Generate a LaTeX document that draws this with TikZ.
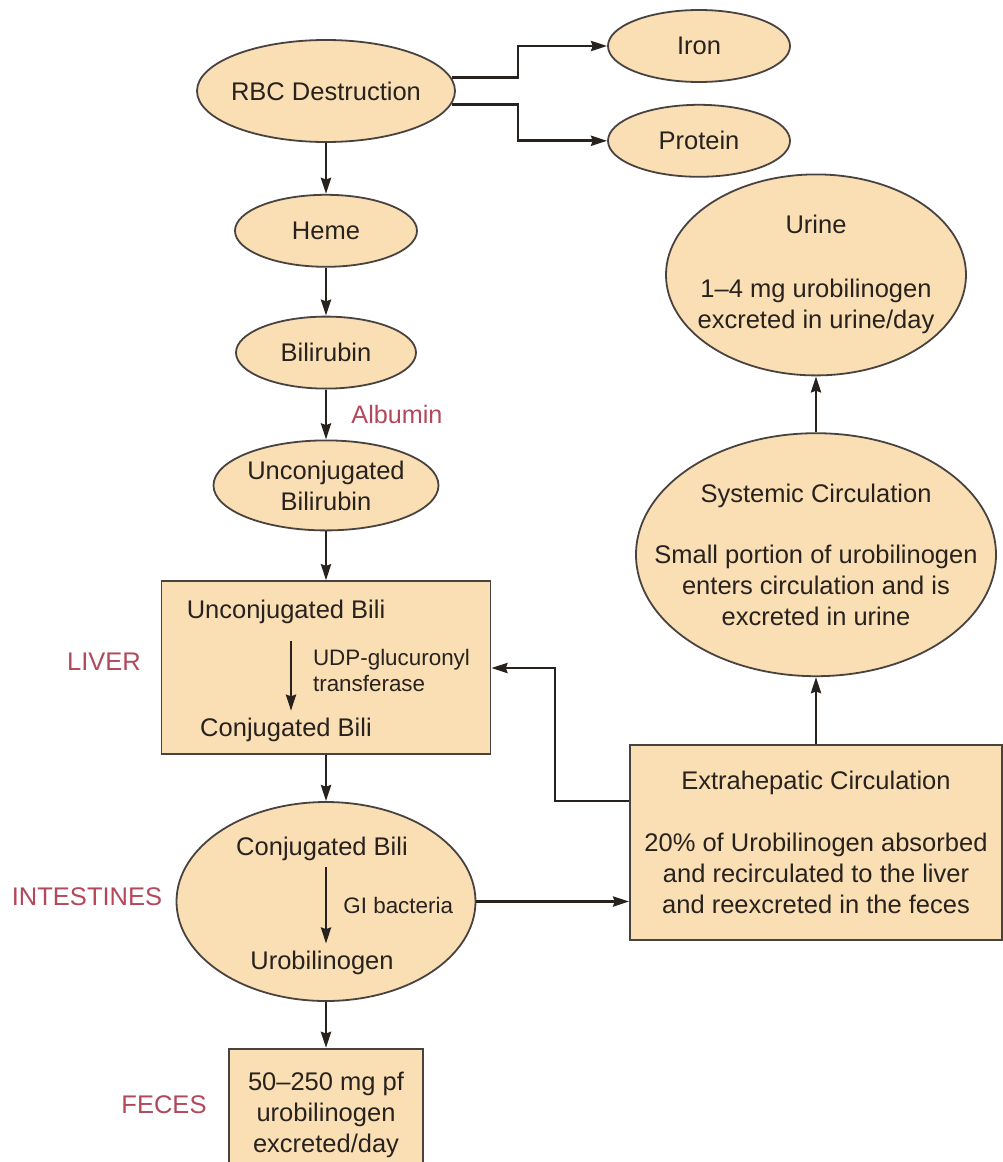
\documentclass[tikz,border=0pt]{standalone}
\usepackage{fontspec}
\setmainfont{Liberation Sans}
\usetikzlibrary{shapes.geometric,arrows.meta,positioning,calc}

\definecolor{peach}{RGB}{250,222,180}
\definecolor{ink}{RGB}{40,34,30}
\definecolor{regionred}{RGB}{178,72,90}

\begin{document}
\begin{tikzpicture}[
    x=0.5pt, y=-0.5pt,
    node distance=24pt,
    every node/.style={font=\fontsize{12.75pt}{15.5pt}\selectfont, text=ink},
    oval/.style={ellipse, draw=ink!85, line width=0.9pt, fill=peach, inner xsep=-18pt, inner ysep=0pt, align=center},
    box/.style={rectangle, draw=ink!85, line width=0.9pt, fill=peach, inner sep=0pt, align=center},
    arrow/.style={-{Stealth[length=8pt, width=5pt, inset=0.8pt]}, line width=1.4pt, draw=ink},
    region/.style={text=regionred},
    enzyme/.style={font=\fontsize{11.2pt}{13pt}\selectfont, align=left}
]
\useasboundingbox (0,0) rectangle (1002,1162);

% main column
\node[oval, minimum width=129pt, minimum height=51pt] (rbc) at (326,91) {RBC Destruction};
\node[oval, minimum width=91pt, minimum height=36pt, below=25.5pt of rbc] (heme) {Heme};
\node[oval, minimum width=90pt, minimum height=36pt, below=24pt of heme] (bili) {Bilirubin};
\node[oval, minimum width=112.5pt, minimum height=45pt, below=25pt of bili] (unconj) {Unconjugated\\Bilirubin};
\node[box, minimum width=164.5pt, minimum height=86.5pt, below=24.5pt of unconj] (liver) {};
\node[oval, minimum width=149.5pt, minimum height=99.5pt, below=23pt of liver] (intest) {};
\node[box, minimum width=97pt, minimum height=66pt, below=23pt of intest] (feces) {50--250 mg pf\\urobilinogen\\excreted/day};

% inside the liver
\node (ubili) at ($(liver.center)+(-40,-56)$) {Unconjugated Bili};
\node (cbili) at ($(liver.center)+(-40,62)$) {Conjugated Bili};

% inside the intestines
\node (cbili2) at ($(intest.center)+(-4,-53)$) {Conjugated Bili};
\node (urob) at ($(intest.center)+(-4,61)$) {Urobilinogen};

% side products
\node[oval, minimum width=91pt, minimum height=36pt] (iron) at (699,46) {Iron};
\node[oval, minimum width=91pt, minimum height=36pt, below=10.5pt of iron] (protein) {Protein};
\coordinate (fork) at (518,91);

% right column
\node[box, minimum width=186pt, minimum height=97.5pt] (extra) at (816,842.5) {Extrahepatic Circulation\\[15.5pt]20\% of Urobilinogen absorbed\\and recirculated to the liver\\and reexcreted in the feces};
\node[oval, minimum width=180pt, minimum height=121.5pt, above=33.5pt of extra] (syst) {Systemic Circulation\\[15pt]Small portion of urobilinogen\\enters circulation and is\\excreted in urine};
\node[oval, minimum width=150pt, minimum height=100.5pt, above=28pt of syst] (urine) {Urine\\[16.5pt]1--4 mg urobilinogen\\excreted in urine/day};
\coordinate (loopup) at (555,668);

% region labels
\node[region] (liverlbl) at (104,662) {LIVER};
\node[region] (intestlbl) at (87,897) {INTESTINES};
\node[region] (feceslbl) at (164,1105) {FECES};

% flow
\draw[arrow] (rbc.6) -- (rbc.6 -| fork) |- (iron.west);
\draw[arrow] (rbc.354) -- (rbc.354 -| fork) |- (protein.west);
\draw[arrow] (rbc) -- (heme);
\draw[arrow] (heme) -- (bili);
\draw[arrow] (bili) -- node[right=8.7pt, region, font=\fontsize{12.6pt}{15pt}\selectfont] (albumin) {Albumin} (unconj);
\draw[arrow] (unconj) -- (liver);
\draw[arrow, shorten <=5pt] ([xshift=2.5pt]ubili.south) -- node[right=7pt, enzyme] (udp) {UDP-glucuronyl\\transferase} ([xshift=2.5pt]cbili.north);
\draw[arrow] (liver) -- (intest);
\draw[arrow] ([xshift=2pt]cbili2.south) -- node[right=4.7pt, enzyme] (gibact) {GI bacteria} ([xshift=2pt]urob.north);
\draw[arrow] (intest) -- (feces);

% recirculation
\draw[arrow] (intest.east) -- (intest.east -| extra.west);
\draw[arrow] ([yshift=20.75pt]extra.west) -| (loopup) -- (loopup -| liver.east);
\draw[arrow] (extra) -- (syst);
\draw[arrow] (syst) -- (urine);

\end{tikzpicture}
\end{document}
